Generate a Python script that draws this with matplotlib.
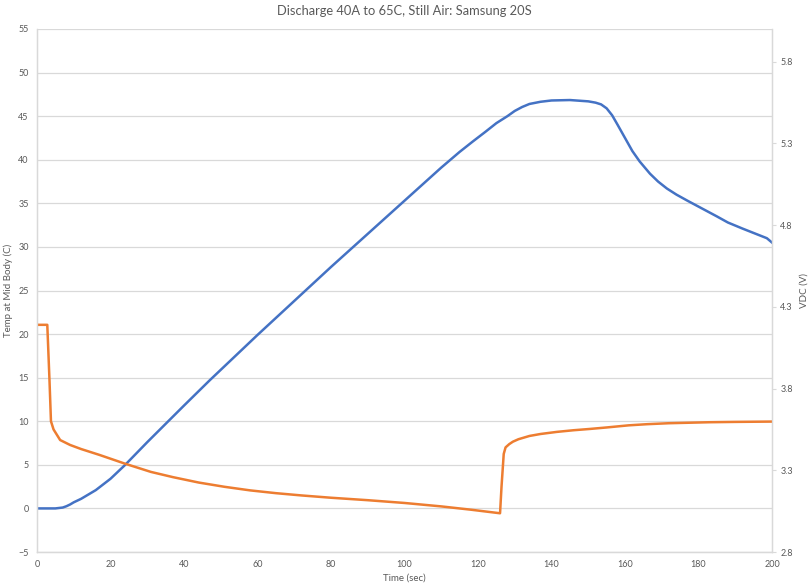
import numpy as np
import matplotlib.pyplot as plt

plt.rcParams['font.family'] = ['Lato', 'DejaVu Sans']

# temperature at mid body (left axis)
t_temp = [0, 5, 7, 8, 9, 10, 12, 14, 16, 18, 20, 22, 24, 27, 30, 35, 40, 47,
          60, 70, 80, 90, 100, 110, 115, 118.6, 122, 125, 128, 130, 132, 134,
          137, 140, 145, 150, 152, 153.5, 155, 156.5, 158, 160, 162, 164,
          166.8, 169, 171.4, 174, 177, 181, 185, 188, 192, 195, 198.6, 200]
temp = [0, 0, 0.1, 0.25, 0.45, 0.7, 1.1, 1.6, 2.1, 2.75, 3.4, 4.2, 5.0, 6.3,
        7.6, 9.7, 11.8, 14.7, 19.9, 23.8, 27.7, 31.5, 35.3, 39.1, 40.9, 42.1,
        43.2, 44.2, 45.0, 45.6, 46.05, 46.4, 46.65, 46.8, 46.85, 46.7, 46.55,
        46.35, 45.9, 45.1, 44.0, 42.5, 41.0, 39.8, 38.4, 37.5, 36.7, 36.0,
        35.3, 34.4, 33.5, 32.8, 32.1, 31.6, 31.0, 30.5]

# cell voltage (right axis)
t_volt = [0, 2.8, 3.4, 3.8, 4.5, 6.3, 9, 12, 17, 24, 31, 37, 44, 51, 58, 65,
          72, 80, 90, 100, 110, 118, 126, 126.4, 127.0, 127.5, 128.5, 129.5,
          131, 134, 137, 141.5, 146, 150.5, 155, 161, 166, 172, 183, 190, 200]
volt = [4.19, 4.19, 3.85, 3.60, 3.55, 3.485, 3.455, 3.43, 3.394, 3.34, 3.29,
        3.258, 3.225, 3.199, 3.177, 3.16, 3.146, 3.132, 3.117, 3.10, 3.079,
        3.059, 3.037, 3.20, 3.40, 3.44, 3.46, 3.475, 3.49, 3.51, 3.522, 3.535,
        3.545, 3.553, 3.562, 3.575, 3.582, 3.588, 3.594, 3.596, 3.598]

x_ticks = np.arange(0, 201, 20)
left_ticks = np.arange(-5, 56, 5)
right_ticks = [2.8, 3.3, 3.8, 4.3, 4.8, 5.3, 5.8]

grey = '#595959'
grid = '#D9D9D9'

fig = plt.figure(figsize=(8.12, 5.86), dpi=100)
ax = fig.add_axes([37 / 812, 34 / 586, 735 / 812, 523 / 586])
ax2 = ax.twinx()

ax.plot(t_temp, temp, color='#4472C4', lw=1.8, solid_joinstyle='round')
ax2.plot(t_volt, volt, color='#ED7D31', lw=1.8, solid_joinstyle='round')

ax.set_xlim(0, 200)
ax.set_ylim(-5, 55)
ax2.set_ylim(2.8, 6.0)
ax.set_xticks(x_ticks)
ax.set_yticks(left_ticks)
ax2.set_yticks(right_ticks)
ax2.set_yticklabels([f'{v:.1f}' for v in right_ticks])

ax.yaxis.grid(True, color=grid, lw=0.9)
ax.set_axisbelow(True)

for a in (ax, ax2):
    a.spines['top'].set_visible(False)
    for side in ('left', 'bottom', 'right'):
        a.spines[side].set_color(grid)
        a.spines[side].set_linewidth(0.9)
    a.tick_params(labelsize=6.5, labelcolor=grey, color=grid)

ax.tick_params(axis='both', length=0, pad=6)
ax2.tick_params(axis='y', length=3, pad=3)

ax.set_title('Discharge 40A to 65C, Still Air: Samsung 20S', fontsize=9.3,
             color=grey, pad=10)
ax.set_xlabel('Time (sec)', fontsize=7, color=grey, labelpad=3)
ax.set_ylabel('Temp at Mid Body (C)', fontsize=7, color=grey, labelpad=4)
ax2.set_ylabel('VDC (V)', fontsize=7, color=grey, rotation=90, labelpad=5)

fig.savefig('out.png', dpi=100)
